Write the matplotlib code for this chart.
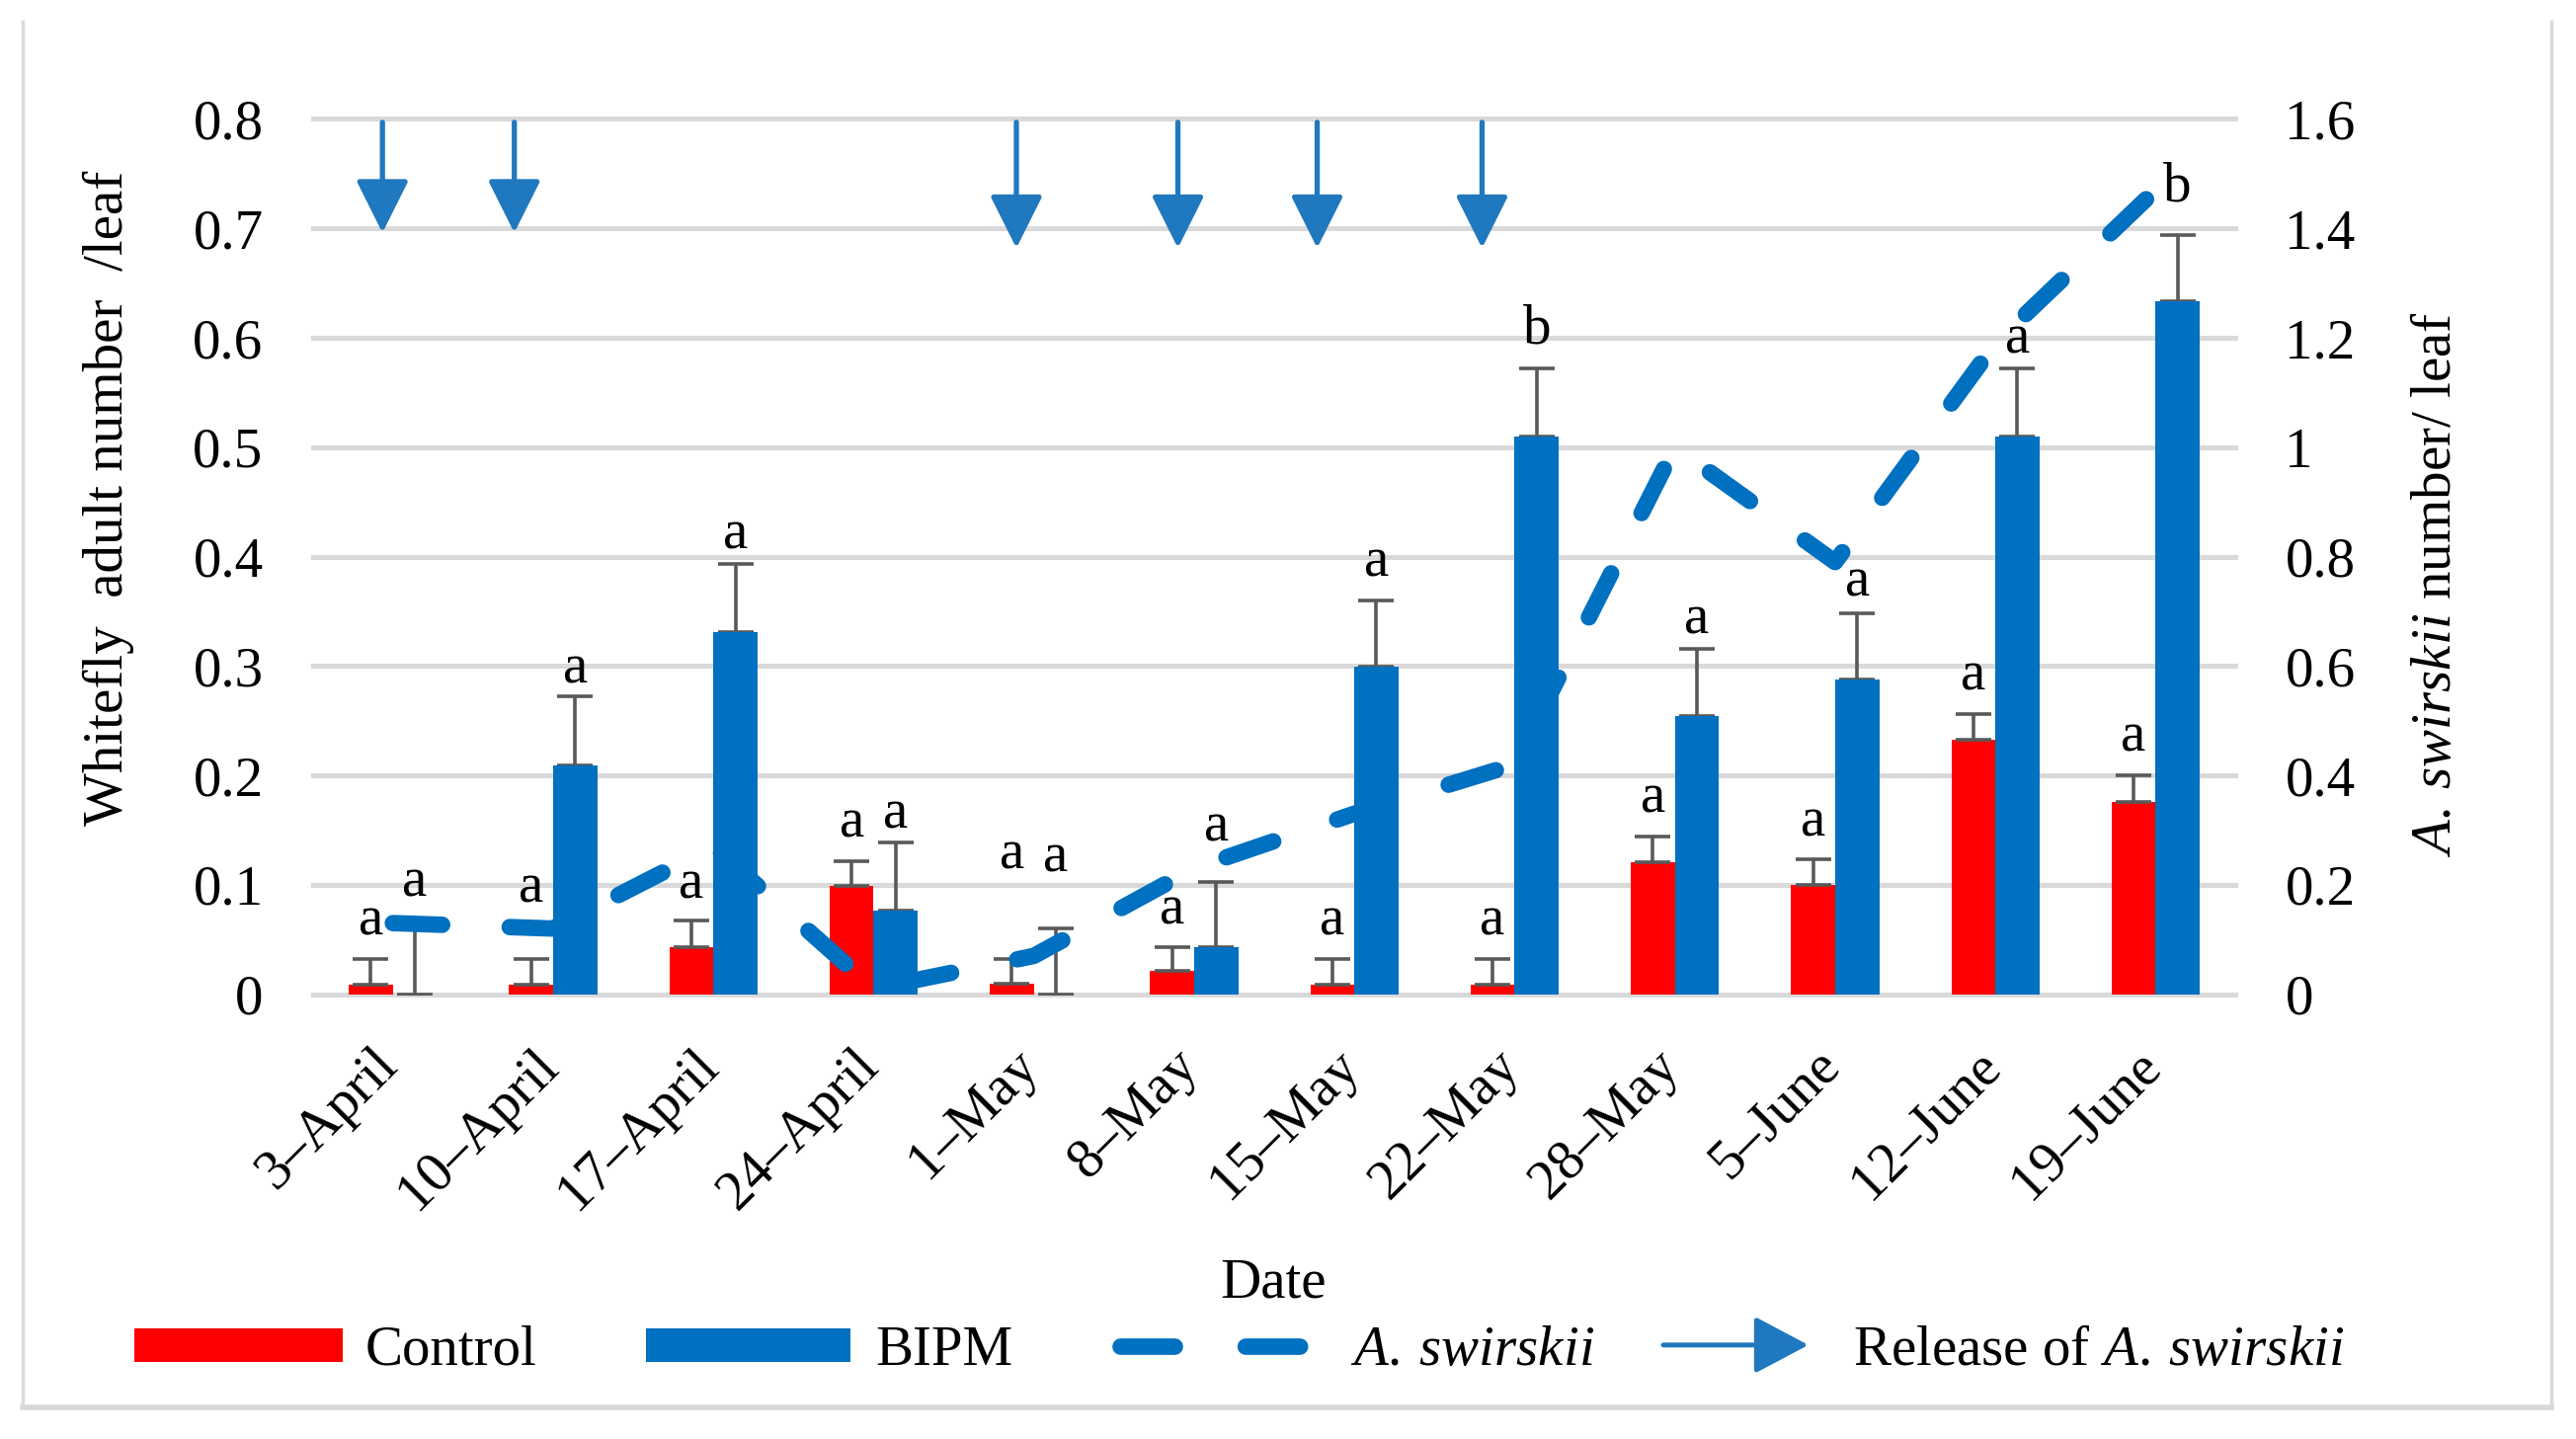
import numpy as np
import matplotlib
matplotlib.use("Agg")
import matplotlib.pyplot as plt
import matplotlib.transforms as mtrans
from matplotlib.patches import Patch, FancyArrowPatch
from matplotlib.lines import Line2D
from matplotlib.legend_handler import HandlerBase

plt.rcParams["font.family"] = ["Liberation Serif", "DejaVu Serif"]
plt.rcParams["mathtext.fontset"] = "custom"
plt.rcParams["mathtext.rm"] = "Liberation Serif"
plt.rcParams["mathtext.it"] = "Liberation Serif:italic"

# ---- data ----
dates = ["3–April", "10–April", "17–April", "24–April", "1–May", "8–May",
         "15–May", "22–May", "28–May", "5–June", "12–June", "19–June"]
control = [0.009, 0.009, 0.043, 0.099, 0.010, 0.021, 0.009, 0.009, 0.121, 0.100, 0.233, 0.176]
control_err = [0.023, 0.023, 0.024, 0.023, 0.022, 0.022, 0.023, 0.023, 0.023, 0.023, 0.023, 0.024]
bipm = [0.0, 0.209, 0.331, 0.076, 0.0, 0.043, 0.299, 0.510, 0.254, 0.288, 0.510, 0.633]
bipm_err = [0.062, 0.063, 0.062, 0.063, 0.060, 0.060, 0.061, 0.062, 0.062, 0.060, 0.062, 0.061]
swirskii = [0.13, 0.12, 0.27, 0.01, 0.07, 0.23, 0.33, 0.42, 1.00, 0.79, 1.19, 1.47]

control_letters = ["a"] * 12
bipm_letters = ["a", "a", "a", "a", "a", "a", "a", "b", "a", "a", "a", "b"]
control_letter_y = [0.067, 0.097, 0.100, 0.156, 0.127, 0.077, 0.067, 0.067, 0.179, 0.157, 0.291, 0.235]
bipm_letter_y = [0.102, 0.297, 0.420, 0.164, 0.125, 0.153, 0.395, 0.608, 0.342, 0.377, 0.599, 0.738]

# releases of A. swirskii (category position, arrow tip on left axis)
release_x = [-0.065, 0.758, 3.891, 4.899, 5.768, 6.797]
release_tip = [0.696, 0.696, 0.682, 0.682, 0.682, 0.682]

left_ticks = [0, 0.1, 0.2, 0.3, 0.4, 0.5, 0.6, 0.7, 0.8]
left_labels = ["0", "0.1", "0.2", "0.3", "0.4", "0.5", "0.6", "0.7", "0.8"]
right_ticks = [0, 0.2, 0.4, 0.6, 0.8, 1.0, 1.2, 1.4, 1.6]
right_labels = ["0", "0.2", "0.4", "0.6", "0.8", "1", "1.2", "1.4", "1.6"]

RED = "#FF0000"
BLUE = "#0070C0"
ARROW = "#2078BE"
GRID = "#D9D9D9"
ERR = "#595959"
FS = 41
W = 0.275
ASW = r"$\mathit{A.\>swirskii}$"

fig = plt.figure(figsize=(26.08, 14.57), dpi=100)
ax = fig.add_axes([0.1214, 0.3091, 0.7465, 0.6082])
ax2 = ax.twinx()

x = np.arange(len(dates))
ax.bar(x - W / 2, control, W, color=RED, zorder=2)
ax.bar(x + W / 2, bipm, W, color=BLUE, zorder=4)
ax.errorbar(x - W / 2, control, yerr=[np.zeros(len(x)), control_err], fmt="none",
            ecolor=ERR, elinewidth=2.6, capsize=13, capthick=2.6, zorder=2.5)
ax.errorbar(x + W / 2, bipm, yerr=[np.zeros(len(x)), bipm_err], fmt="none",
            ecolor=ERR, elinewidth=2.6, capsize=13, capthick=2.6, zorder=2.5)

# A. swirskii counts use the right-hand scale but sit between the two bar series
ax.plot(x, swirskii, color=BLUE, lw=12, dashes=(3.0, 4.1), dash_capstyle="round",
        solid_capstyle="round", transform=ax2.transData, zorder=3)

for i in x:
    ax.text(i - W / 2, control_letter_y[i], control_letters[i], ha="center", va="center",
            fontsize=FS, zorder=6)
    ax.text(i + W / 2, bipm_letter_y[i], bipm_letters[i], ha="center", va="center",
            fontsize=FS, zorder=6)

for rx, tip in zip(release_x, release_tip):
    ax.annotate("", xy=(rx, tip), xytext=(rx, 0.797),
                arrowprops=dict(arrowstyle="-|>,head_length=33,head_width=16.5",
                                mutation_scale=1, lw=3.8, color=ARROW,
                                shrinkA=0, shrinkB=0), zorder=6)

ax.set_xlim(-0.5, len(dates) - 0.5)
ax.set_ylim(0, 0.8)
ax.set_yticks(left_ticks)
ax.set_yticklabels(left_labels, fontsize=FS)
ax.set_xticks(x)
ax.set_xticklabels(dates, fontsize=FS, rotation=45, ha="right")
ax.tick_params(axis="y", length=0, pad=36)
ax.tick_params(axis="x", length=0, pad=33)
shift = mtrans.ScaledTranslation(0.15, 0, fig.dpi_scale_trans)
for lab in ax.get_xticklabels():
    lab.set_transform(lab.get_transform() + shift)
ax.grid(axis="y", color=GRID, lw=3.6)
ax.set_axisbelow(True)
for gl in ax.get_ygridlines():
    gl.set_clip_on(False)

ax2.set_ylim(0, 1.6)
ax2.set_yticks(right_ticks)
ax2.set_yticklabels(right_labels, fontsize=FS)
ax2.tick_params(axis="y", length=0, pad=36)
for a in (ax, ax2):
    for s in a.spines.values():
        s.set_visible(False)

fig.text(0.042, 0.654, "Whitefly  adult number  /leaf", rotation=90, ha="center",
         va="center", fontsize=FS)
fig.text(0.946, 0.594, ASW + " number/ leaf", rotation=90, ha="center",
         va="center", fontsize=FS)
fig.text(0.4944, 0.1084, "Date", ha="center", va="center", fontsize=FS)


class ReleaseArrow:
    pass


class ArrowHandler(HandlerBase):
    def create_artists(self, legend, orig_handle, xdescent, ydescent, width, height,
                       fontsize, trans):
        y = height / 2 - ydescent
        arr = FancyArrowPatch((-xdescent, y), (width - xdescent, y),
                              arrowstyle="-|>,head_length=34,head_width=18",
                              mutation_scale=1, lw=3.6, color=ARROW,
                              shrinkA=0, shrinkB=0, transform=trans)
        return [arr]


# legend: one entry per box so each key can have its own length, as in the original
legend_items = [
    (Patch(facecolor=RED, edgecolor="none"), "Control", 0.0521, 3.70, 0.40),
    (Patch(facecolor=BLUE, edgecolor="none"), "BIPM", 0.2508, 3.63, 0.44),
    (Line2D([], [], color=BLUE, lw=12, dashes=(3.3, 4.3), dash_capstyle="round"),
     ASW, 0.4348, 3.21, 0.88),
    (ReleaseArrow(), "Release of " + ASW, 0.6457, 2.58, 0.79),
]
for h, lab, lx, hl, tp in legend_items:
    fig.legend([h], [lab], handler_map={ReleaseArrow: ArrowHandler()}, loc="center left",
               bbox_to_anchor=(lx, 0.0611), frameon=False, fontsize=FS, borderpad=0,
               borderaxespad=0, handlelength=hl, handleheight=0.55, handletextpad=tp)

# light frame around the chart area (left, right, bottom)
for xs, ys, lw in [([0.0088, 0.0088], [0.022, 0.985], 2.5),
                   ([0.9905, 0.9905], [0.022, 0.985], 2.5),
                   ([0.0088, 0.9905], [0.022, 0.022], 4.0)]:
    fig.add_artist(Line2D(xs, ys, transform=fig.transFigure, color=GRID, lw=lw))

fig.savefig("out.png", dpi=100, facecolor="white")
